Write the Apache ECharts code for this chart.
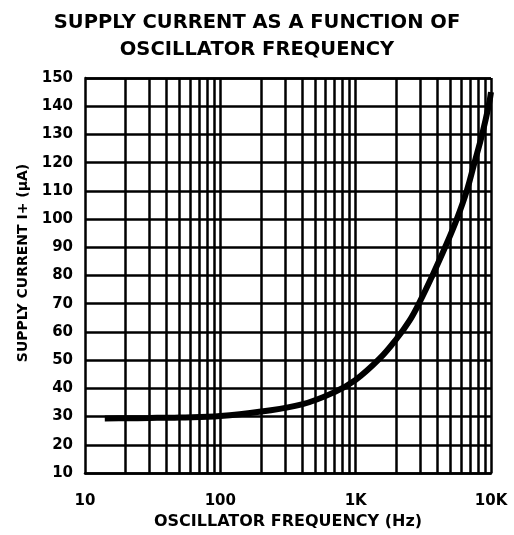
<!DOCTYPE html>
<html>
<head>
<meta charset="utf-8">
<script src="https://cdn.jsdelivr.net/npm/echarts@6/dist/echarts.min.js"></script>
<style>html,body{margin:0;padding:0;background:#fff}#c{width:514px;height:535px}</style>
</head>
<body>
<div id="c"></div>
<script>
const titleLines = ['SUPPLY CURRENT AS A FUNCTION OF', 'OSCILLATOR FREQUENCY'];
const xAxisName = 'OSCILLATOR FREQUENCY (Hz)';
const yAxisName = 'SUPPLY CURRENT I+ (\u03bcA)';
const freqHz = [14, 20, 30, 50, 100, 200, 400, 700, 1000, 1500, 2000, 2500, 3000, 3650, 4580, 5590, 6620, 7550, 8600, 9600, 10000];
const currentUA = [29.3, 29.4, 29.5, 29.7, 30.2, 31.8, 34.3, 38.7, 43.0, 50.5, 57.5, 64, 71, 79.5, 90, 100, 110, 120, 130, 140, 145];
const xTickLabels = {10: '10', 100: '100', 1000: '1K', 10000: '10K'};
const decades = [10, 100, 1000];
const multipliers = [2, 3, 4, 5, 6, 7, 8, 9];

const gridFreqs = [];
decades.forEach(d => multipliers.forEach(m => gridFreqs.push(d * m)));
gridFreqs.push(100, 1000);

const font = '"DejaVu Sans", Arial, sans-serif';
const chart = echarts.init(document.getElementById('c'));
chart.setOption({
  animation: false,
  title: {
    text: titleLines.join('\n'),
    left: 'center', top: 4,
    textStyle: {fontFamily: font, fontWeight: 'bold', fontSize: 19.5, color: '#000', lineHeight: 27}
  },
  grid: {left: 85, right: 23, top: 78, bottom: 56},
  xAxis: {
    type: 'log', min: 10, max: 10000, logBase: 10,
    name: xAxisName, nameLocation: 'middle', nameGap: 41,
    nameTextStyle: {fontFamily: font, fontWeight: 'bold', fontSize: 16, color: '#000'},
    axisLine: {show: true, lineStyle: {color: '#000', width: 2.5}},
    axisTick: {show: false},
    axisLabel: {margin: 21, fontFamily: font, fontWeight: 'bold', fontSize: 15, color: '#000',
      formatter: v => xTickLabels[Math.round(v)] || ''},
    splitLine: {show: false}
  },
  yAxis: {
    type: 'value', min: 10, max: 150, interval: 10,
    name: yAxisName, nameLocation: 'middle', nameGap: 53,
    nameTextStyle: {fontFamily: font, fontWeight: 'bold', fontSize: 14, color: '#000', padding: [0, 0, 0, 25]},
    axisLine: {show: true, lineStyle: {color: '#000', width: 2.5}},
    axisTick: {show: false},
    axisLabel: {margin: 12, fontFamily: font, fontWeight: 'bold', fontSize: 15, color: '#000'},
    splitLine: {show: true, lineStyle: {color: '#000', width: 2.5}}
  },
  series: [{
    type: 'line',
    data: freqHz.map((f, i) => [f, currentUA[i]]),
    showSymbol: false,
    smooth: 0.4,
    lineStyle: {color: '#000', width: 6},
    z: 5,
    markLine: {
      silent: true, symbol: 'none', label: {show: false},
      lineStyle: {color: '#000', width: 2.5, type: 'solid'},
      data: gridFreqs.map(f => ({xAxis: f})),
      z: 1
    }
  }, {
    type: 'line', data: [],
    markLine: {
      silent: true, symbol: 'none', label: {show: false},
      lineStyle: {color: '#000', width: 2.5, type: 'solid'},
      data: [{xAxis: 10000}, {yAxis: 150}]
    }
  }]
});
</script>
</body>
</html>
